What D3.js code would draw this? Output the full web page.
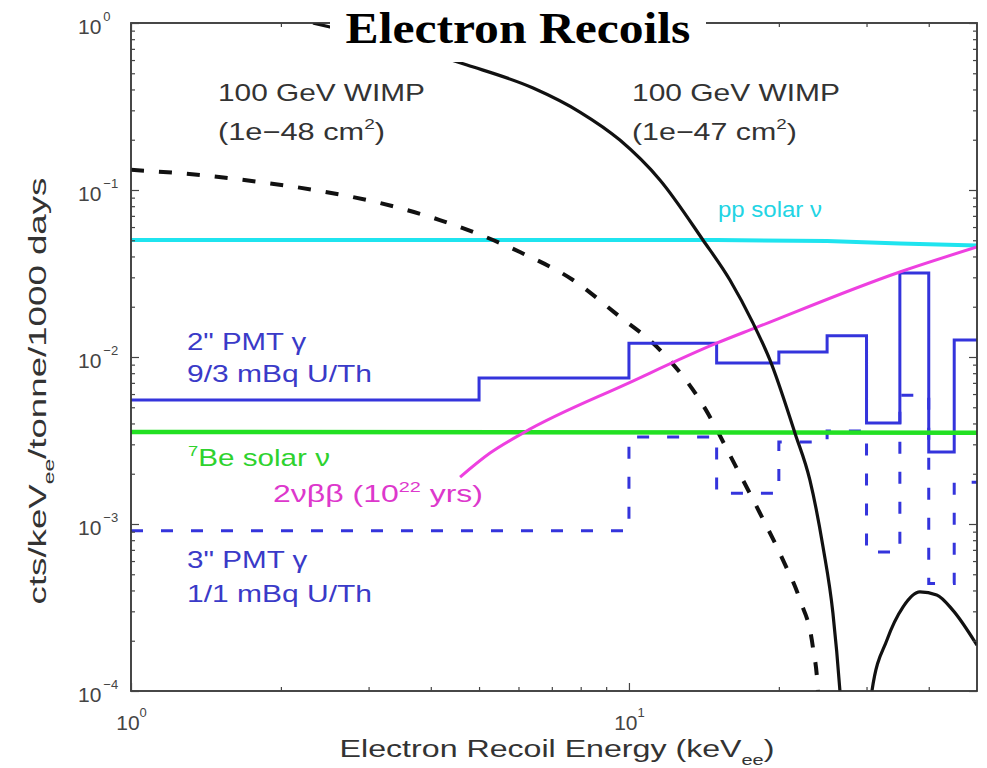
<!DOCTYPE html>
<html>
<head>
<meta charset="utf-8">
<script src="https://cdn.jsdelivr.net/npm/d3@7"></script>
<style>
body { margin: 0; background: #fff; }
</style>
</head>
<body>
<div id="svg-area"></div>
<script>
var svgWidth = 987;
var svgHeight = 768;

// PMT gamma backgrounds, binned (keV_ee edges, cts/keVee/tonne/1000 days)
var pmt2Edges = [1, 5, 10, 15, 20, 25, 30, 35, 40, 45, 50];
var pmt2Rates = [0.00553, 0.00748, 0.0121, 0.0092, 0.0107, 0.0134, 0.00403, 0.0318, 0.0027, 0.01265];
var pmt3Edges = [1, 10, 15, 20, 25, 30, 35, 40, 45, 50];
var pmt3Rates = [0.00091, 0.00332, 0.00153, 0.0031, 0.0036, 0.00068, 0.0059, 0.00044, 0.00178];

// solar neutrinos
var ppEnergy = [1, 15, 25, 35, 50];
var ppRate = [0.0502, 0.0502, 0.0495, 0.0478, 0.0465];
var be7Energy = [1, 50];
var be7Rate = [0.00356, 0.00352];

// 2 neutrino double beta
var bbEnergy = [4.58, 5.26, 6.13, 10, 15, 17.9, 35, 50];
var bbRate = [0.00191, 0.00266, 0.00351, 0.0070, 0.0121, 0.0149, 0.0323, 0.0456];

// 100 GeV WIMP, 1e-48 cm2 (dashed)
var wimp48Energy = [1, 1.376, 1.816, 2.40, 3.16, 4.17, 6.04, 7.72, 9.59, 11.38, 14.08, 16.33, 18.33, 20.38, 22.05, 23.41, 23.96, 24.1];
var wimp48Rate = [0.132, 0.123, 0.1116, 0.0986, 0.0836, 0.0661, 0.0425, 0.0289, 0.0174, 0.0115, 0.00516, 0.00226, 0.00116, 0.00061, 0.000351, 0.000183, 0.0001, 0.000066];

// 100 GeV WIMP, 1e-47 cm2 (solid), main part and second lobe
var wimp47Energy = [2.32, 2.51, 4.73, 6.42, 7.97, 9.59, 11.54, 14.08, 15.95, 17.74, 19.19, 21.54, 23.09, 24.53, 25.68, 26.53, 26.78];
var wimp47Rate = [1.0, 0.946, 0.560, 0.408, 0.293, 0.199, 0.1148, 0.0502, 0.0289, 0.0160, 0.0096, 0.00351, 0.00183, 0.00073, 0.000293, 0.0001, 0.000067];
var lobeEnergy = [30.3, 30.76, 32.97, 35.5, 38.4, 41.5, 44.7, 50];
var lobeRate = [0.000066, 0.0001, 0.000202, 0.000318, 0.000392, 0.000376, 0.000305, 0.000188];

// ticks
var xMajor = [1, 10];
var xMajorExp = ["0", "1"];
var xMinor = [2, 3, 4, 5, 6, 7, 8, 9, 20, 30, 40];
var yMajor = [1e-4, 1e-3, 1e-2, 1e-1, 1];
var yMajorExp = ["\u22124", "\u22123", "\u22122", "\u22121", "0"];

var sans = "'Liberation Sans', Arial, Helvetica, sans-serif";

var svg = d3.select("#svg-area")
  .append("svg")
  .attr("width", svgWidth)
  .attr("height", svgHeight)
  .style("display", "block");

svg.append("rect").attr("width", svgWidth).attr("height", svgHeight).attr("fill", "#fff");

// plot box (note: "top" is taken by window.top)
var pLeft = 131, pRight = 977, pTop = 23, pBottom = 691;

var x = d3.scaleLog().domain([1, 50]).range([pLeft, pRight]);
var y = d3.scaleLog().domain([1e-4, 1]).range([pBottom, pTop]);

// minor y ticks from decades
var yMinor = [];
[1e-4, 1e-3, 1e-2, 1e-1].forEach(function(d) {
  for (var k = 2; k <= 9; k++) yMinor.push(k * d);
});

function zip(a, b) {
  return a.map(function(v, i) { return [v, b[i]]; });
}
function steps(edges, rates) {
  var pts = rates.map(function(r, i) { return [edges[i], r]; });
  pts.push([edges[edges.length - 1], rates[rates.length - 1]]);
  return pts;
}

svg.append("clipPath").attr("id", "plot-clip")
  .append("rect").attr("x", pLeft).attr("y", pTop)
  .attr("width", pRight - pLeft).attr("height", pBottom - pTop);

var plot = svg.append("g").attr("clip-path", "url(#plot-clip)");

var line = d3.line()
  .x(function(d) { return x(d[0]); })
  .y(function(d) { return y(d[1]); });
var smooth = d3.line()
  .x(function(d) { return x(d[0]); })
  .y(function(d) { return y(d[1]); })
  .curve(d3.curveMonotoneX);
var stepLine = d3.line()
  .x(function(d) { return x(d[0]); })
  .y(function(d) { return y(d[1]); })
  .curve(d3.curveStepAfter);

function draw(path, color, width, dash) {
  var p = plot.append("path")
    .attr("d", path)
    .attr("fill", "none")
    .attr("stroke", color)
    .attr("stroke-width", width);
  if (dash) p.attr("stroke-dasharray", dash);
  return p;
}

draw(line(zip(ppEnergy, ppRate)), "#1fe4ef", 4);
draw(smooth(zip(wimp48Energy, wimp48Rate)), "#111", 4, "13,15");
draw(stepLine(steps(pmt3Edges, pmt3Rates)), "#3434dc", 3, "12,18");
draw(stepLine(steps(pmt2Edges, pmt2Rates)), "#3434dc", 3);
draw(line(zip(be7Energy, be7Rate)), "#22e022", 4.5);
draw(smooth(zip(bbEnergy, bbRate)), "#ee40e0", 3);
draw(smooth(zip(wimp47Energy, wimp47Rate)), "#111", 3.2);
draw(smooth(zip(lobeEnergy, lobeRate)), "#111", 3.2);

// frame
svg.append("rect")
  .attr("x", pLeft).attr("y", pTop)
  .attr("width", pRight - pLeft).attr("height", pBottom - pTop)
  .attr("fill", "none").attr("stroke", "#333").attr("stroke-width", 1.8);

function styleAxis(g) {
  g.select(".domain").remove();
  g.selectAll(".tick line").attr("stroke", "#444").attr("stroke-width", 1.2);
}

svg.append("g").attr("transform", "translate(0," + pBottom + ")")
  .call(d3.axisBottom(x).tickValues(xMinor).tickSize(-4).tickFormat("")).call(styleAxis);
svg.append("g").attr("transform", "translate(0," + pTop + ")")
  .call(d3.axisTop(x).tickValues(xMinor).tickSize(-4).tickFormat("")).call(styleAxis);
svg.append("g").attr("transform", "translate(" + pLeft + ",0)")
  .call(d3.axisLeft(y).tickValues(yMinor).tickSize(-4).tickFormat("")).call(styleAxis);
svg.append("g").attr("transform", "translate(" + pRight + ",0)")
  .call(d3.axisRight(y).tickValues(yMinor).tickSize(-4).tickFormat("")).call(styleAxis);
svg.append("g").attr("transform", "translate(0," + pTop + ")")
  .call(d3.axisTop(x).tickValues(xMajor).tickSize(-8).tickFormat("")).call(styleAxis);
svg.append("g").attr("transform", "translate(" + pRight + ",0)")
  .call(d3.axisRight(y).tickValues(yMajor).tickSize(-8).tickFormat("")).call(styleAxis);

var xAxisG = svg.append("g").attr("transform", "translate(0," + pBottom + ")")
  .call(d3.axisBottom(x).tickValues(xMajor).tickSize(-8).tickFormat("")).call(styleAxis);
xAxisG.selectAll(".tick").each(function(d, i) {
  var t = d3.select(this).append("text")
    .attr("y", 39).attr("fill", "#444").attr("font-family", sans)
    .attr("font-size", 21).attr("text-anchor", "middle");
  t.append("tspan").text("10");
  t.append("tspan").text(xMajorExp[i]).attr("font-size", 13).attr("dy", -13);
});

var yAxisG = svg.append("g").attr("transform", "translate(" + pLeft + ",0)")
  .call(d3.axisLeft(y).tickValues(yMajor).tickSize(-8).tickFormat("")).call(styleAxis);
yAxisG.selectAll(".tick").each(function(d, i) {
  var t = d3.select(this).append("text")
    .attr("x", -53).attr("y", 10).attr("fill", "#444").attr("font-family", sans)
    .attr("font-size", 21).attr("text-anchor", "start");
  t.append("tspan").text("10");
  t.append("tspan").text(yMajorExp[i]).attr("font-size", 13).attr("dy", -13).attr("dx", 2);
});

// text with super/subscripts, stretched to a target width
function addLabel(x0, y0, parts, size, color, width, opts) {
  opts = opts || {};
  var t = svg.append("text")
    .attr("font-family", opts.family || sans)
    .attr("font-weight", opts.weight || "normal")
    .attr("font-size", size)
    .attr("fill", color)
    .attr("text-anchor", opts.anchor || "start");
  var shift = 0;
  parts.forEach(function(p) {
    var kind = p[1] || "n";
    var target = kind === "sup" ? -0.45 * size : kind === "sub" ? 0.35 * size : 0;
    var ts = t.append("tspan").text(p[0]).attr("dy", target - shift);
    if (kind !== "n") ts.attr("font-size", size * 0.62);
    shift = target;
  });
  var w = t.node().getBBox().width;
  var sx = width ? width / w : 1;
  t.attr("transform", "translate(" + x0 + "," + y0 + ")" +
    (opts.rotate ? " rotate(" + opts.rotate + ")" : "") + " scale(" + sx + ",1)");
  return t;
}

var gray = "#333";
var blueText = "#3a3ac8";

addLabel(218, 101, [["100 GeV WIMP"]], 24, gray, 207);
addLabel(218, 140, [["(1e\u221248 cm"], ["2", "sup"], [")"]], 24, gray, 167);
addLabel(632, 101, [["100 GeV WIMP"]], 24, gray, 208);
addLabel(632, 140, [["(1e\u221247 cm"], ["2", "sup"], [")"]], 24, gray, 165);
addLabel(718, 217, [["pp solar \u03bd"]], 22, "#22d4e4", 104);
addLabel(187, 350, [["2\" PMT \u03b3"]], 23, blueText, 120);
addLabel(187, 382, [["9/3 mBq U/Th"]], 23, blueText, 185);
addLabel(188, 466, [["7", "sup"], ["Be solar \u03bd"]], 23, "#2ed22e", 142);
addLabel(273, 502, [["2\u03bd\u03b2\u03b2 (10"], ["22", "sup"], [" yrs)"]], 23, "#dd38cc", 210);
addLabel(187, 568, [["3\" PMT \u03b3"]], 23, blueText, 121);
addLabel(187, 602, [["1/1 mBq U/Th"]], 23, blueText, 185);

// axis titles
addLabel(557, 757, [["Electron Recoil Energy (keV"], ["ee", "sub"], [")"]], 24, gray, 435, { anchor: "middle" });
addLabel(46, 391, [["cts/keV"], ["ee", "sub"], ["/tonne/1000 days"]], 24, gray, 427, { anchor: "middle", rotate: -90 });

// title on white box
svg.append("rect").attr("x", 330).attr("y", 0).attr("width", 376).attr("height", 62).attr("fill", "#fff");
addLabel(518, 43, [["Electron Recoils"]], 44, "#000", 345,
  { anchor: "middle", family: "'Liberation Serif', 'Times New Roman', serif", weight: "bold" });
</script>
</body>
</html>
